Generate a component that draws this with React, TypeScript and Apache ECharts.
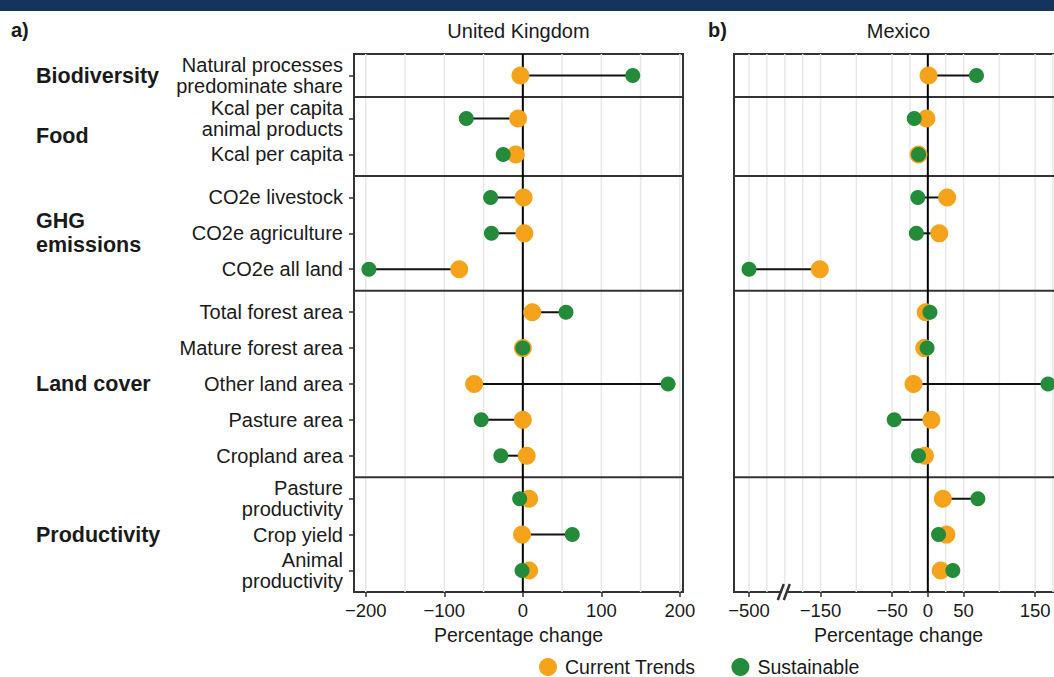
import React, { useEffect, useRef } from "react";
import * as echarts from "echarts";

const FONT = "'Liberation Sans', Arial, Helvetica, sans-serif";
const TEXT = "#1a1a1a";
const ORANGE = "#F5A31B";
const GREEN = "#238B3A";

// ---- data ----
const rowLabels = [
  "Natural processes\npredominate share",
  "Kcal per capita\nanimal products",
  "Kcal per capita",
  "CO2e livestock",
  "CO2e agriculture",
  "CO2e all land",
  "Total forest area",
  "Mature forest area",
  "Other land area",
  "Pasture area",
  "Cropland area",
  "Pasture\nproductivity",
  "Crop yield",
  "Animal\nproductivity",
];
const groupLabels = ["Biodiversity", "Food", "GHG\nemissions", "Land cover", "Productivity"];
const groupSizes = [1, 2, 3, 5, 3];

const ukCurrent = [-3, -6, -9, 1, 2, -81, 12, 0, -62, 0, 5, 8, -1, 8];
const ukSustainable = [140, -72, -25, -41, -40, -196, 55, 0, 185, -53, -28, -4, 63, -1];
const mxCurrent = [1, -2, -13, 27, 16, -151, -3, -5, -20, 5, -4, 21, 26, 18];
const mxSustainable = [68, -19, -13, -14, -16, -500, 3, -1, 168, -47, -13, 70, 15, 35];

const ukTicks = [-200, -100, 0, 100, 200];
const ukGrid = [-200, -150, -100, -50, 50, 100, 150, 200];
const mxTicks = [-500, -150, -50, 0, 50, 150];
const mxGrid = [-500, -350, -200, -175, -150, -100, -50, -25, 25, 50, 100, 150, 175];
const mxBreak = -200;

// ---- helpers ----
const r1 = (v: number) => Math.round(v * 10) / 10;
// broken axis for Mexico: values below -200 are compressed 6x
const txMx = (v: number) => (v >= -200 ? v : -200 + (v + 200) / 6);
const invMx = (t: number) => (t >= -200 ? t : -200 + (t + 200) * 6);
const fmtNum = (v: number) => (v < 0 ? "\u2212" + Math.abs(v) : String(v));

// facet layout: each group panel gets 0.6 padding on both sides, rows 1 apart
const rowPos: number[] = [];
const groupCenters: number[] = [];
const separators: number[] = [];
let start = 0;
groupSizes.forEach((n, gi) => {
  for (let i = 0; i < n; i++) rowPos.push(r1(start + 0.6 + i));
  groupCenters.push(r1(start + 0.6 + (n - 1) / 2));
  start = r1(start + n - 1 + 1.2);
  if (gi < groupSizes.length - 1) separators.push(start);
});
const Y_MAX = start;

const rowLabelMap: Record<number, string> = {};
rowPos.forEach((p, i) => (rowLabelMap[Math.round(p * 10)] = rowLabels[i]));
const groupLabelMap: Record<number, string> = {};
groupCenters.forEach((p, i) => (groupLabelMap[Math.round(p * 10)] = groupLabels[i]));

const GRID_TOP = 54;
const GRID_H = 538;
const GRID_W = 329;

const yIdx = (idx: number) => (idx === 0 ? 0 : 2);
const noLine = { show: false, onZero: false };

// vertical lines at given x values (grid lines / zero line)
function vLineSeries(vals: number[], idx: number, color: string, width: number, z: number) {
  return {
    type: "custom",
    xAxisIndex: idx,
    yAxisIndex: yIdx(idx),
    z,
    silent: true,
    data: vals.map((v) => [v, 1]),
    encode: { x: 0, y: 1 },
    renderItem: (params: any, api: any) => {
      const cs = params.coordSys;
      const x = api.coord([api.value(0), 1])[0];
      return {
        type: "line",
        shape: { x1: x, y1: cs.y, x2: x, y2: cs.y + cs.height },
        style: { stroke: color, lineWidth: width },
      };
    },
  };
}

// horizontal facet separators at given y values
function hLineSeries(vals: number[], idx: number, z: number) {
  return {
    type: "custom",
    xAxisIndex: idx,
    yAxisIndex: yIdx(idx),
    z,
    silent: true,
    data: vals.map((v) => [0, v]),
    encode: { x: 0, y: 1 },
    renderItem: (params: any, api: any) => {
      const cs = params.coordSys;
      const y = api.coord([0, api.value(1)])[1];
      return {
        type: "line",
        shape: { x1: cs.x, y1: y, x2: cs.x + cs.width, y2: y },
        style: { stroke: "#333333", lineWidth: 2 },
      };
    },
  };
}

function segmentSeries(cur: number[], sus: number[], idx: number) {
  return {
    type: "custom",
    xAxisIndex: idx,
    yAxisIndex: yIdx(idx),
    z: 2,
    silent: true,
    data: cur.map((c, i) => [c, sus[i], rowPos[i]]),
    encode: { x: [0, 1], y: 2 },
    renderItem: (params: any, api: any) => {
      const y = api.value(2);
      const p1 = api.coord([api.value(0), y]);
      const p2 = api.coord([api.value(1), y]);
      return {
        type: "line",
        shape: { x1: p1[0], y1: p1[1], x2: p2[0], y2: p2[1] },
        style: { stroke: "#111111", lineWidth: 2 },
      };
    },
  };
}

function pointSeries(name: string, vals: number[], idx: number, color: string, size: number, z: number) {
  return {
    type: "scatter",
    name,
    xAxisIndex: idx,
    yAxisIndex: yIdx(idx),
    z,
    symbol: "circle",
    symbolSize: size,
    itemStyle: { color, opacity: 1 },
    data: vals.map((v, i) => [v, rowPos[i]]),
  };
}

const axisLabelBase = { color: TEXT, fontFamily: FONT };

const option: any = {
  animation: false,
  backgroundColor: "#ffffff",
  grid: [
    { left: 354, top: GRID_TOP, width: GRID_W, height: GRID_H, show: true, borderColor: "#333333", borderWidth: 2, backgroundColor: "transparent" },
    { left: 734, top: GRID_TOP, width: GRID_W, height: GRID_H, show: true, borderColor: "#333333", borderWidth: 2, backgroundColor: "transparent" },
  ],
  xAxis: [
    {
      type: "value",
      gridIndex: 0,
      position: "bottom",
      min: -215,
      max: 204,
      axisLine: noLine,
      splitLine: { show: false },
      axisTick: { show: true, customValues: ukTicks, length: 5, lineStyle: { color: "#333", width: 1.5 } },
      axisLabel: { ...axisLabelBase, fontSize: 18.5, margin: 9, customValues: ukTicks, formatter: (v: number) => fmtNum(Math.round(v)) },
      name: "Percentage change",
      nameLocation: "middle",
      nameGap: 33,
      nameTextStyle: { color: TEXT, fontFamily: FONT, fontSize: 19.5 },
    },
    {
      type: "value",
      gridIndex: 1,
      position: "bottom",
      min: -271,
      max: 189,
      axisLine: noLine,
      splitLine: { show: false },
      axisTick: { show: true, customValues: mxTicks.map(txMx), length: 5, lineStyle: { color: "#333", width: 1.5 } },
      axisLabel: { ...axisLabelBase, fontSize: 18.5, margin: 9, customValues: mxTicks.map(txMx), formatter: (v: number) => fmtNum(Math.round(invMx(v))) },
      name: "Percentage change",
      nameLocation: "middle",
      nameGap: 33,
      nameTextStyle: { color: TEXT, fontFamily: FONT, fontSize: 19.5 },
    },
  ],
  yAxis: [
    {
      type: "value",
      gridIndex: 0,
      position: "left",
      min: 0,
      max: Y_MAX,
      inverse: true,
      axisLine: noLine,
      splitLine: { show: false },
      axisTick: { show: true, customValues: rowPos, length: 5, lineStyle: { color: "#333", width: 1.5 } },
      axisLabel: { ...axisLabelBase, fontSize: 20, lineHeight: 21, margin: 11, customValues: rowPos, formatter: (v: number) => rowLabelMap[Math.round(v * 10)] ?? "" },
    },
    {
      type: "value",
      gridIndex: 0,
      position: "left",
      offset: 310,
      min: 0,
      max: Y_MAX,
      inverse: true,
      axisLine: noLine,
      splitLine: { show: false },
      axisTick: { show: false },
      axisLabel: {
        ...axisLabelBase,
        fontSize: 21.5,
        fontWeight: "bold",
        lineHeight: 24,
        align: "left",
        margin: 8,
        customValues: groupCenters,
        formatter: (v: number) => groupLabelMap[Math.round(v * 10)] ?? "",
      },
    },
    {
      type: "value",
      gridIndex: 1,
      position: "left",
      min: 0,
      max: Y_MAX,
      inverse: true,
      axisLine: noLine,
      splitLine: { show: false },
      axisTick: { show: false },
      axisLabel: { show: false },
    },
  ],
  legend: {
    left: 539,
    top: 657,
    padding: 0,
    itemWidth: 18,
    itemHeight: 18,
    itemGap: 36,
    icon: "circle",
    data: ["Current Trends", "Sustainable"],
    textStyle: { color: TEXT, fontFamily: FONT, fontSize: 19.5, padding: [0, 0, 0, 3] },
    selectedMode: false,
  },
  series: [
    vLineSeries(ukGrid, 0, "#e8e8e8", 1.5, 1),
    vLineSeries(mxGrid.map(txMx), 1, "#e8e8e8", 1.5, 1),
    hLineSeries(separators, 0, 2),
    hLineSeries(separators, 1, 2),
    vLineSeries([0], 0, "#000000", 2, 2),
    vLineSeries([0], 1, "#000000", 2, 2),
    segmentSeries(ukCurrent, ukSustainable, 0),
    segmentSeries(mxCurrent.map(txMx), mxSustainable.map(txMx), 1),
    pointSeries("Current Trends", ukCurrent, 0, ORANGE, 18, 3),
    pointSeries("Sustainable", ukSustainable, 0, GREEN, 15, 4),
    pointSeries("Current Trends", mxCurrent.map(txMx), 1, ORANGE, 18, 3),
    pointSeries("Sustainable", mxSustainable.map(txMx), 1, GREEN, 15, 4),
  ],
  graphic: [
    { type: "rect", shape: { x: 0, y: 0, width: 1100, height: 11 }, style: { fill: "#15345B" } },
    { type: "text", x: 11, y: 30, style: { text: "a)", font: `bold 20px ${FONT}`, fill: TEXT, textVerticalAlign: "middle" } },
    { type: "text", x: 708, y: 30, style: { text: "b)", font: `bold 20px ${FONT}`, fill: TEXT, textVerticalAlign: "middle" } },
    {
      type: "text",
      x: 354 + GRID_W / 2,
      y: 31,
      style: { text: "United Kingdom", font: `20px ${FONT}`, fill: TEXT, textAlign: "center", textVerticalAlign: "middle" },
    },
    {
      type: "text",
      x: 734 + GRID_W / 2,
      y: 31,
      style: { text: "Mexico", font: `20px ${FONT}`, fill: TEXT, textAlign: "center", textVerticalAlign: "middle" },
    },
  ],
};

export default function App() {
  const ref = useRef<HTMLDivElement>(null);
  useEffect(() => {
    const chart = echarts.init(ref.current!, null, { renderer: "svg" });
    chart.setOption(option);
    const bx = chart.convertToPixel({ xAxisIndex: 1 } as any, txMx(mxBreak)) as unknown as number;
    const by = chart.convertToPixel({ yAxisIndex: 2 } as any, Y_MAX) as unknown as number;
    if (typeof bx === "number" && typeof by === "number") {
      chart.setOption({
        graphic: [
          ...option.graphic,
          { type: "rect", z: 100, shape: { x: bx - 3, y: by - 2, width: 6, height: 4 }, style: { fill: "#ffffff" } },
          { type: "line", z: 101, shape: { x1: bx - 7, y1: by + 8, x2: bx - 1, y2: by - 8 }, style: { stroke: "#333333", lineWidth: 2.5 } },
          { type: "line", z: 101, shape: { x1: bx - 1, y1: by + 8, x2: bx + 5, y2: by - 8 }, style: { stroke: "#333333", lineWidth: 2.5 } },
        ],
      });
    }
    return () => chart.dispose();
  }, []);
  return (
    <div style={{ position: "fixed", left: 0, top: 0, width: 1054, height: 677, overflow: "hidden", background: "#ffffff" }}>
      <div ref={ref} style={{ width: 1100, height: 677 }} />
    </div>
  );
}
